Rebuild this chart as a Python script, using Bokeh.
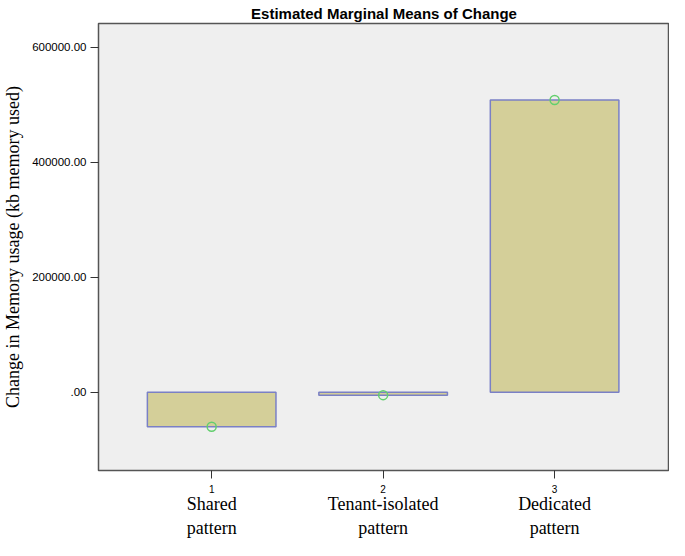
from bokeh.plotting import figure
from bokeh.models import FixedTicker, LinearAxis, Range1d
from bokeh.embed import file_html
from bokeh.resources import INLINE

groups = [1, 2, 3]
group_names = ["Shared\npattern", "Tenant-isolated\npattern", "Dedicated\npattern"]
means = [-60000, -5000, 508000]
y_ticks = [0, 200000, 400000, 600000]
y_tick_labels = [".00", "200000.00", "400000.00", "600000.00"]

p = figure(width=669, height=540, output_backend="svg", toolbar_location=None,
           x_range=Range1d(0.34, 3.67), y_range=Range1d(-136000, 641000),
           title="Estimated Marginal Means of Change",
           min_border_left=2, min_border_right=0, min_border_top=0, min_border_bottom=0)

p.title.align = "center"
p.title.text_font = "Liberation Sans"
p.title.text_font_size = "15px"
p.title.text_font_style = "bold"
p.title.text_color = "#000000"
p.title.offset = 0
p.title.standoff = 4

p.background_fill_color = "#efefef"
p.border_fill_color = "white"
p.outline_line_color = "#555555"
p.outline_line_width = 1.5
p.xgrid.visible = False
p.ygrid.visible = False

p.vbar(x=groups, top=means, bottom=0, width=0.75,
       fill_color="#d4cf99", line_color="#7a80c6", line_width=1.5)
p.scatter(x=groups, y=means, size=9, fill_color=None,
          line_color="#63cf6e", line_width=1.5)

# y axis
p.yaxis.ticker = FixedTicker(ticks=y_ticks)
p.yaxis.major_label_overrides = {t: l for t, l in zip(y_ticks, y_tick_labels)}
p.yaxis.major_label_text_font = "Liberation Sans"
p.yaxis.major_label_text_font_size = "11.5px"
p.yaxis.major_label_text_color = "#000000"
p.yaxis.major_label_standoff = 4
p.yaxis.major_tick_out = 8
p.yaxis.major_tick_in = 0
p.yaxis.minor_tick_line_color = None
p.yaxis.axis_line_color = "#555555"
p.yaxis.major_tick_line_color = "#333333"
p.yaxis.axis_label = "Change in Memory usage (kb memory used)"
p.yaxis.axis_label_text_font = "Liberation Serif"
p.yaxis.axis_label_text_font_size = "18px"
p.yaxis.axis_label_text_font_style = "normal"
p.yaxis.axis_label_text_color = "#000000"
p.yaxis.axis_label_standoff = 6

# x axis (numbers)
p.xaxis.ticker = FixedTicker(ticks=groups)
p.xaxis.major_label_text_font = "Liberation Sans"
p.xaxis.major_label_text_font_size = "10px"
p.xaxis.major_label_text_color = "#000000"
p.xaxis.major_label_standoff = 6
p.xaxis.major_tick_out = 8
p.xaxis.major_tick_in = 0
p.xaxis.minor_tick_line_color = None
p.xaxis.axis_line_color = "#555555"
p.xaxis.major_tick_line_color = "#333333"

# x axis (names)
ax2 = LinearAxis(ticker=FixedTicker(ticks=groups))
ax2.major_label_overrides = {g: n for g, n in zip(groups, group_names)}
ax2.major_label_text_font = "Liberation Serif"
ax2.major_label_text_font_size = "18px"
ax2.major_label_text_color = "#000000"
ax2.major_tick_line_color = None
ax2.minor_tick_line_color = None
ax2.axis_line_color = None
ax2.major_label_standoff = -8
p.add_layout(ax2, "below")

open("out.html", "w").write(file_html(p, INLINE))
